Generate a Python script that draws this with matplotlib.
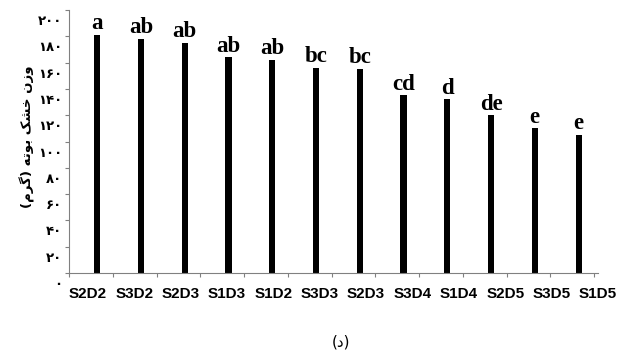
import matplotlib
matplotlib.use("Agg")
from matplotlib import pyplot as plt
from matplotlib import transforms
import numpy as np

# داده‌ها
treatments = ["S2D2", "S3D2", "S2D3", "S1D3", "S1D2", "S3D3",
              "S2D3", "S3D4", "S1D4", "S2D5", "S3D5", "S1D5"]
dry_weight = [181, 178, 175, 164, 162, 156, 155, 135, 132, 120, 110, 105]
groups = ["a", "ab", "ab", "ab", "ab", "bc", "bc", "cd", "d", "de", "e", "e"]
ytick_values = [0, 20, 40, 60, 80, 100, 120, 140, 160, 180, 200]
ytick_labels = ["۰", "۲۰", "۴۰", "۶۰", "۸۰", "۱۰۰", "۱۲۰", "۱۴۰", "۱۶۰", "۱۸۰", "۲۰۰"]

# "وزن خشک بوته (گرم)" - presentation forms in visual order (no shaping in matplotlib)
ylabel = ("(" + "\uFEE1\uFEAE\uFB94" + ")" + " " + "\uFEEA\uFE97\uFEEE\uFE91" + " "
          + "\uFB8F\uFEB8\uFEA7" + " " + "\uFEE5\uFEAF\uFEED")
caption = "(د)"

plt.rcParams['font.family'] = ['DejaVu Sans']

fig = plt.figure(figsize=(6.24, 3.52), dpi=100)
ax = fig.add_axes([0.1106, 0.2244, 0.8478, 0.7472])

x = np.arange(len(treatments)) + 0.645
ax.bar(x, dry_weight, width=0.14, color="black")

for xi, v, g in zip(x, dry_weight, groups):
    ax.annotate(g, (xi, v), xytext=(0, 0.5), textcoords="offset points",
                ha="center", va="bottom", fontsize=16.5, fontweight="bold",
                family="Liberation Serif")

ax.set_xlim(0, 12)
ax.set_ylim(0, 200)

# major ticks at category boundaries, labels on minor ticks
ax.set_xticks(np.arange(0, 13))
ax.set_xticklabels([])
label_pos = np.linspace(0.43, 12.09, len(treatments))
ax.set_xticks(label_pos, minor=True)
ax.set_xticklabels(treatments, minor=True, fontsize=11, fontweight="bold",
                   family="Liberation Sans")
ax.tick_params(axis="x", which="minor", length=0, pad=10)
ax.tick_params(axis="x", which="major", length=3, color="#808080")

ax.set_yticks(ytick_values)
ax.set_yticklabels(ytick_labels, fontsize=9.5, fontweight="bold")
ax.tick_params(axis="y", length=3, pad=2, color="#808080")
shift = transforms.ScaledTranslation(0, -0.1, fig.dpi_scale_trans)
for lab in ax.get_yticklabels():
    lab.set_transform(lab.get_transform() + shift)

for side in ["top", "right"]:
    ax.spines[side].set_visible(False)
for side in ["left", "bottom"]:
    ax.spines[side].set_color("#808080")
    ax.spines[side].set_linewidth(0.8)

fig.text(27 / 624, 1 - 137 / 352, ylabel, rotation=90, ha="center", va="center",
         fontsize=9.5, fontweight="bold")
fig.text(341 / 624, 1 - 342 / 352, caption, ha="center", va="center", fontsize=11)

plt.savefig("out.png", dpi=100)
